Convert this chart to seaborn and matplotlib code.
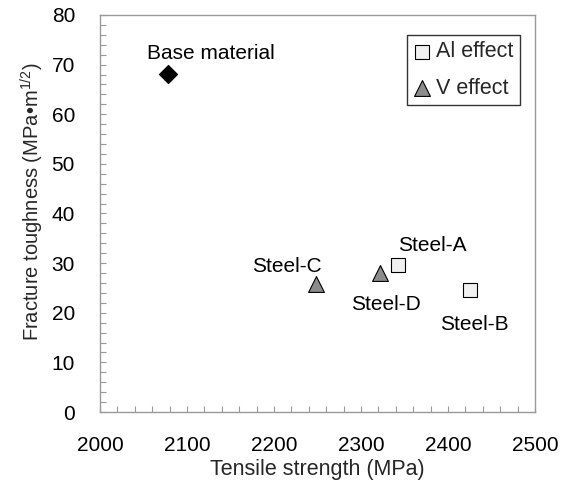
import matplotlib
matplotlib.use("Agg")
import matplotlib.pyplot as plt
import seaborn as sns
import pandas as pd
from matplotlib.ticker import MultipleLocator

sns.set_theme(style="white")
plt.rcParams["font.family"] = ["Liberation Sans", "DejaVu Sans"]
plt.rcParams["mathtext.fontset"] = "custom"
plt.rcParams["mathtext.rm"] = "Liberation Sans"

# Measured properties
names = ["Base material", "Steel-A", "Steel-B", "Steel-C", "Steel-D"]
tensile = [2078, 2342, 2425, 2248, 2322]
toughness = [68.2, 29.6, 24.5, 25.7, 28.1]
group = ["Base", "Al effect", "Al effect", "V effect", "V effect"]

df = pd.DataFrame({"name": names, "ts": tensile, "kic": toughness, "group": group})

fig, ax = plt.subplots(figsize=(5.67, 4.88), dpi=100)
fig.subplots_adjust(left=0.1764, right=0.9436, top=0.9693, bottom=0.1557)

markers = {"Base": "D", "Al effect": "s", "V effect": "^"}
faces = {"Base": "black", "Al effect": "#f0f0f0", "V effect": "#8c8c8c"}
sizes = {"Base": 85, "Al effect": 90, "V effect": 130}
for g in ["Base", "Al effect", "V effect"]:
    sub = df[df["group"] == g]
    sns.scatterplot(data=sub, x="ts", y="kic", marker=markers[g], s=sizes[g],
                    color=faces[g], edgecolor="black", linewidth=0.8, ax=ax,
                    label=None if g == "Base" else g, zorder=3)

# Point labels (offsets in points, baseline anchored)
offsets = {"Base material": (31, 10.5),
           "Steel-A": (25, 10),
           "Steel-B": (3.6, -28.5),
           "Steel-C": (-21, 9),
           "Steel-D": (4.5, -27)}
for n, x, y in zip(names, tensile, toughness):
    dx, dy = offsets[n]
    ax.annotate(n, (x, y), xytext=(dx, dy), textcoords="offset points",
                ha="center", va="baseline", fontsize=15, color="black")

ax.set_xlim(2000, 2500)
ax.set_ylim(0, 80)
ax.xaxis.set_major_locator(MultipleLocator(100))
ax.xaxis.set_minor_locator(MultipleLocator(20))
ax.yaxis.set_major_locator(MultipleLocator(10))
ax.yaxis.set_minor_locator(MultipleLocator(2))
ax.tick_params(axis="both", which="both", direction="in", color="#999999",
               labelsize=15, labelcolor="black", length=4.5, width=0.8,
               bottom=True, left=True)
ax.tick_params(axis="x", which="major", pad=17)
ax.tick_params(axis="y", which="major", pad=18)
for sp in ax.spines.values():
    sp.set_color("#999999")
    sp.set_linewidth(1.0)

ax.set_xlabel("Tensile strength (MPa)", fontsize=15.5, labelpad=3)
ax.set_ylabel("Fracture toughness (MPa\u2022m$^{\\mathregular{1/2}}$)",
              fontsize=14.5, labelpad=5)
ax.yaxis.set_label_coords(-0.125, 0.53)

leg = ax.legend(loc="upper right", bbox_to_anchor=(0.9655, 0.9496),
                fontsize=15.5, frameon=True, fancybox=False,
                handletextpad=0.27, handlelength=0.8, borderpad=0.3,
                labelspacing=0.7, borderaxespad=0.0)
leg.get_frame().set_edgecolor("black")
leg.get_frame().set_linewidth(1.0)

fig.savefig("out.png", dpi=100)
